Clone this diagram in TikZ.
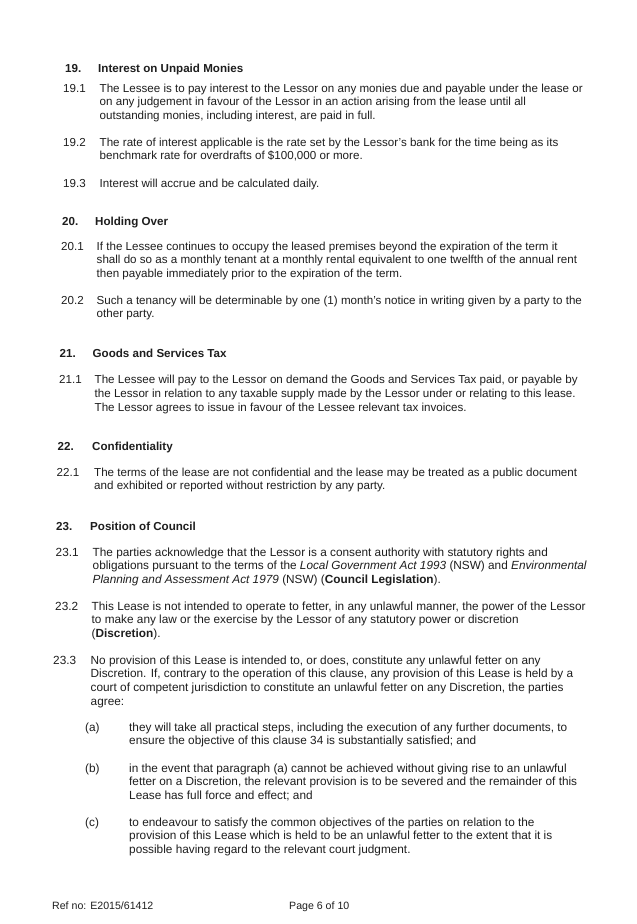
\documentclass[tikz,border=0pt]{standalone}
\usepackage{fontspec}
\setmainfont{Liberation Sans}
\usepackage{tikz}
\definecolor{inkgrey}{RGB}{30,30,30}

\begin{document}
\begin{tikzpicture}[x=1pt,y=-1pt,
    body/.style={anchor=north west,align=left,inner sep=0pt,text=inkgrey,font=\fontsize{11.6}{13.7}\selectfont},
    lower/.style={body,font=\fontsize{11.8}{13.7}\selectfont},
    head/.style={body,font=\fontsize{11.6}{13.7}\selectfont\bfseries},
    foot/.style={body,font=\fontsize{10.6}{12.5}\selectfont}]
    \useasboundingbox[fill=white] (0,0) rectangle (637,924);

    % Clause 19
    \node[head] (n19) at (65,62.4) {\strut 19.};
    \node[head] (h19) at (98,62.4) {\strut Interest on Unpaid Monies};
    \node[body] (n191) at (63,82.4) {\strut 19.1};
    \node[body] (p191) at (99.5,82.4) {\strut The Lessee is to pay interest to the Lessor on any monies due and payable under the lease or\\
        on any judgement in favour of the Lessor in an action arising from the lease until all\\
        outstanding monies, including interest, are paid in full.};
    \node[body] (n192) at (63,136.4) {\strut 19.2};
    \node[body] (p192) at (99.5,136.4) {\strut The rate of interest applicable is the rate set by the Lessor's bank for the time being as its\\
        benchmark rate for overdrafts of \$100,000 or more.};
    \node[body] (n193) at (63,177.4) {\strut 19.3};
    \node[body] (p193) at (99.5,177.4) {\strut Interest will accrue and be calculated daily.};

    % Clause 20
    \node[head] (n20) at (62,215.4) {\strut 20.};
    \node[head] (h20) at (95,215.4) {\strut Holding Over};
    \node[body] (n201) at (61,240.4) {\strut 20.1};
    \node[body] (p201) at (96.5,240.4) {\strut If the Lessee continues to occupy the leased premises beyond the expiration of the term it\\
        shall do so as a monthly tenant at a monthly rental equivalent to one twelfth of the annual rent\\
        then payable immediately prior to the expiration of the term.};
    \node[body] (n202) at (61,294.4) {\strut 20.2};
    \node[body] (p202) at (96.5,294.4) {\strut Such a tenancy will be determinable by one (1) month's notice in writing given by a party to the\\
        other party.};

    % Clause 21
    \node[head] (n21) at (59.5,347.4) {\strut 21.};
    \node[head] (h21) at (92.5,347.4) {\strut Goods and Services Tax};
    \node[body] (n211) at (59,373.9) {\strut 21.1};
    \node[body] (p211) at (94.5,373.9) {\strut The Lessee will pay to the Lessor on demand the Goods and Services Tax paid, or payable by\\
        the Lessor in relation to any taxable supply made by the Lessor under or relating to this lease.\\
        The Lessor agrees to issue in favour of the Lessee relevant tax invoices.};

    % Clause 22
    \node[head] (n22) at (57.5,440.4) {\strut 22.};
    \node[head] (h22) at (92,440.4) {\strut Confidentiality};
    \node[body] (n221) at (56.5,466.4) {\strut 22.1};
    \node[body] (p221) at (94,466.4) {\strut The terms of the lease are not confidential and the lease may be treated as a public document\\
        and exhibited or reported without restriction by any party.};

    % Clause 23
    \node[head] (n23) at (56,520.4) {\strut 23.};
    \node[head] (h23) at (90,520.4) {\strut Position of Council};
    \node[lower] (n231) at (55.5,546.4) {\strut 23.1};
    \node[lower] (p231) at (92.5,546.4) {\strut The parties acknowledge that the Lessor is a consent authority with statutory rights and\\
        obligations pursuant to the terms of the \textit{Local Government Act 1993} (NSW) and \textit{Environmental}\\
        \textit{Planning and Assessment Act 1979} (NSW) (\textbf{Council Legislation}).};
    \node[lower] (n232) at (55,600.4) {\strut 23.2};
    \node[lower] (p232) at (91.5,600.4) {\strut This Lease is not intended to operate to fetter, in any unlawful manner, the power of the Lessor\\
        to make any law or the exercise by the Lessor of any statutory power or discretion\\
        (\textbf{Discretion}).};
    \node[lower] (n233) at (53,654.4) {\strut 23.3};
    \node[lower] (p233) at (90.5,654.4) {\strut No provision of this Lease is intended to, or does, constitute any unlawful fetter on any\\
        Discretion. If, contrary to the operation of this clause, any provision of this Lease is held by a\\
        court of competent jurisdiction to constitute an unlawful fetter on any Discretion, the parties\\
        agree:};

    % Sub-paragraphs
    \node[lower] (la) at (85,721.4) {\strut (a)};
    \node[lower] (pa) at (129,721.4) {\strut they will take all practical steps, including the execution of any further documents, to\\
        ensure the objective of this clause 34 is substantially satisfied; and};
    \node[lower] (lb) at (85,762.4) {\strut (b)};
    \node[lower] (pb) at (129,762.4) {\strut in the event that paragraph (a) cannot be achieved without giving rise to an unlawful\\
        fetter on a Discretion, the relevant provision is to be severed and the remainder of this\\
        Lease has full force and effect; and};
    \node[lower] (lc) at (85,816.4) {\strut (c)};
    \node[lower] (pc) at (129,816.4) {\strut to endeavour to satisfy the common objectives of the parties on relation to the\\
        provision of this Lease which is held to be an unlawful fetter to the extent that it is\\
        possible having regard to the relevant court judgment.};

    % Footer
    \node[foot] (ref) at (52,900.3) {\strut Ref no: E2015/61412};
    \node[foot] (page) at (289,900.3) {\strut Page 6 of 10};
\end{tikzpicture}
\end{document}
